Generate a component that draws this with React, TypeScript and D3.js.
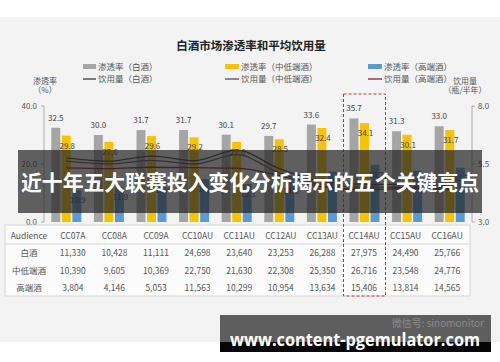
import React from "react";
import * as d3 from "d3";

const categories = ["CC07A", "CC08A", "CC09A", "CC10AU", "CC11AU", "CC12AU", "CC13AU", "CC14AU", "CC15AU", "CC16AU"];
const penAll = [32.5, 30.0, 31.7, 31.7, 30.1, 29.7, 33.6, 35.7, 31.3, 33.0];
const penMid = [29.8, 27.6, 29.6, 29.2, 27.6, 28.5, 32.4, 34.1, 30.1, 31.7];
const penHigh = [10.9, 11.9, 14.4, 14.8, 13.1, 14.0, 17.4, 19.7, 17.7, 18.7];
const volAll = [5.76, 5.62, 5.84, 5.64, 6.1, 5.3, 4.75, 4.62, 4.62, 4.58];
const volMid = [5.62, 5.5, 5.66, 5.5, 5.9, 5.12, 4.62, 4.5, 4.5, 4.46];
const volHigh = [5.33, 5.3, 5.36, 5.34, 5.32, 5.0, 4.52, 4.4, 4.44, 4.4];
const audienceAll = ["11,330", "10,428", "11,111", "24,698", "23,640", "23,253", "26,288", "27,975", "24,490", "25,766"];
const audienceMid = ["10,390", "9,605", "10,369", "22,750", "21,630", "22,308", "25,350", "26,716", "23,548", "24,776"];
const audienceHigh = ["3,804", "4,146", "5,053", "11,563", "10,299", "10,954", "13,634", "15,406", "13,814", "14,565"];
const rowNames = ["白酒", "中低端酒", "高端酒"];
const leftTicks = [0, 20, 40];
const rightTicks = [3.0, 5.5, 8.0];
const highlight = "CC14AU";

const FONT = "'Noto Sans CJK SC', 'Noto Sans', sans-serif";
const GRAY = "#a5a5a5";
const YELLOW = "#f7c200";
const BLUE = "#5b9bd5";
const LINE_ALL = "#3a3a3a";
const LINE_MID = "#5a4a5a";
const LINE_HIGH = "#8b1f24";

export default function App() {
  const W = 500, H = 362;
  const x = d3.scaleBand<string>().domain(categories).range([45, 471]);
  const sub = d3.scaleBand<string>().domain(["a", "m", "h"]).range([-15, 15]).paddingInner(0.15);
  const yL = d3.scaleLinear().domain([0, 40]).range([222, 106]);
  const yR = d3.scaleLinear().domain([3, 8]).range([222, 106]);
  const xt = d3.scaleBand<string>().domain(categories).range([52, 468]);
  const cx = (c: string) => (x(c) as number) + x.bandwidth() / 2;

  const series = [
    { key: "a", vals: penAll, color: GRAY, label: "above" },
    { key: "m", vals: penMid, color: YELLOW, label: "inside" },
    { key: "h", vals: penHigh, color: BLUE, label: "inside" },
  ];
  const lines = [
    { vals: volAll, color: LINE_ALL },
    { vals: volMid, color: LINE_MID },
    { vals: volHigh, color: LINE_HIGH },
  ];
  const lineGen = d3
    .line<number>()
    .x((_, i) => cx(categories[i]))
    .y((d) => yR(d))
    .curve(d3.curveMonotoneX);

  const rows = [audienceAll, audienceMid, audienceHigh];
  const rowY = [253, 271, 288];
  const hx = cx(highlight);

  return (
    <svg width={W} height={H} style={{ position: "absolute", left: 0, top: 0 }} fontFamily={FONT}>
      <rect x={0} y={0} width={W} height={H} fill="#ffffff" />
      <rect x={0} y={17} width={W} height={325} fill="#f3f3f3" />
      {/* title */}
      <text x={251} y={50} textAnchor="middle" fontSize={11.5} fontWeight="bold" fill="#222">
        白酒市场渗透率和平均饮用量
      </text>
      {/* legend */}
      <g fontSize={8.5} fill="#555">
        <rect x={83} y={64} width={13} height={5} fill={GRAY} />
        <text x={98} y={70}>渗透率（白酒）</text>
        <line x1={83} x2={96} y1={79} y2={79} stroke={LINE_ALL} strokeWidth={1.3} />
        <text x={98} y={82}>饮用量（白酒）</text>
        <rect x={225} y={64} width={14} height={5} fill={YELLOW} />
        <text x={241} y={70}>渗透率（中低端酒）</text>
        <line x1={225} x2={239} y1={79} y2={79} stroke={LINE_MID} strokeWidth={1.3} />
        <text x={241} y={82}>饮用量（中低端酒）</text>
        <rect x={368} y={64} width={14} height={5} fill={BLUE} />
        <text x={384} y={70}>渗透率（高端酒）</text>
        <line x1={368} x2={382} y1={79} y2={79} stroke={LINE_HIGH} strokeWidth={1.3} />
        <text x={384} y={82}>饮用量（高端酒）</text>
      </g>
      {/* axis titles */}
      <g fontSize={8} fill="#555" textAnchor="middle">
        <text x={45} y={84}>渗透率</text>
        <text x={45} y={93}>（%）</text>
        <text x={465} y={84}>饮用量</text>
        <text x={465} y={93}>（瓶/半年）</text>
      </g>
      {/* left axis */}
      <line x1={44} x2={44} y1={yL(40)} y2={yL(0)} stroke="#999" strokeWidth={0.8} />
      {leftTicks.map((t) => (
        <g key={"l" + t}>
          <line x1={41} x2={44} y1={yL(t)} y2={yL(t)} stroke="#999" strokeWidth={0.8} />
          <text x={37} y={yL(t) + 3} textAnchor="end" fontSize={8} fill="#555">
            {t.toFixed(1)}
          </text>
        </g>
      ))}
      {/* right axis */}
      <line x1={472} x2={472} y1={yR(8)} y2={yR(3)} stroke="#999" strokeWidth={0.8} />
      {rightTicks.map((t) => (
        <g key={"r" + t}>
          <line x1={472} x2={475} y1={yR(t)} y2={yR(t)} stroke="#999" strokeWidth={0.8} />
          <text x={478} y={yR(t) + 3} fontSize={8} fill="#555">
            {t.toFixed(1)}
          </text>
        </g>
      ))}
      {/* bars */}
      {series.map((s) =>
        s.vals.map((v, i) => {
          const c = categories[i];
          const bx = cx(c) + (sub(s.key) as number);
          const top = yL(v);
          return (
            <g key={s.key + c}>
              <rect x={bx} y={top} width={sub.bandwidth()} height={yL(0) - top} fill={s.color} />
              <text
                x={bx + sub.bandwidth() / 2 + (s.key === "a" ? 0 : 1)}
                y={s.label === "above" ? top - 7 : top + 13}
                textAnchor="middle"
                fontSize={8}
                fill="#444"
              >
                {v.toFixed(1)}
              </text>
            </g>
          );
        })
      )}
      {/* lines */}
      {lines.map((l, i) => (
        <path key={"ln" + i} d={lineGen(l.vals) || ""} fill="none" stroke={l.color} strokeWidth={1.3} />
      ))}
      {/* table */}
      <rect x={5} y={225} width={465} height={71} fill="#fbfbfb" stroke="#cfcfcf" strokeWidth={0.8} />
      <line x1={5} x2={470} y1={244} y2={244} stroke="#cfcfcf" strokeWidth={0.8} />
      <g fontSize={8.5} fill="#555" textAnchor="middle">
        <text x={29} y={239}>Audience</text>
        {categories.map((c) => (
          <text key={"h" + c} x={(xt(c) as number) + xt.bandwidth() / 2} y={239}>
            {c}
          </text>
        ))}
        {rows.map((r, ri) => (
          <g key={"row" + ri}>
            <text x={29} y={rowY[ri] + 3}>{rowNames[ri]}</text>
            {r.map((v, ci) => (
              <text key={"c" + ci} x={(xt(categories[ci]) as number) + xt.bandwidth() / 2} y={rowY[ri] + 3}>
                {v}
              </text>
            ))}
          </g>
        ))}
      </g>
      {/* highlight dashed box */}
      <rect
        x={hx - 21}
        y={94}
        width={42}
        height={202}
        fill="none"
        stroke="#c0392b"
        strokeWidth={1}
        strokeDasharray="3,2"
      />
      {/* overlay banner */}
      <rect x={18} y={150} width={464} height={63} fill="#262626" fillOpacity={0.72} />
      <text x={250} y={190} textAnchor="middle" fontSize={21} fontWeight="bold" fill="#ffffff" textLength={458} lengthAdjust="spacingAndGlyphs">
        近十年五大联赛投入变化分析揭示的五个关键亮点
      </text>
      {/* bottom watermark */}
      <rect x={220} y={315} width={271} height={27} fill="#5e5e5e" />
      <rect x={220} y={342} width={271} height={10} fill="#050505" />
      <text x={484} y={327} textAnchor="end" fontSize={10} fill="#8a8a8a">
        微信号: sinomonitor
      </text>
      <text x={230} y={346} fontSize={17} fontWeight="bold" fill="#ffffff" fontFamily="'Open Sans', sans-serif" textLength={250} lengthAdjust="spacingAndGlyphs">
        www.content-pgemulator.com
      </text>
    </svg>
  );
}
